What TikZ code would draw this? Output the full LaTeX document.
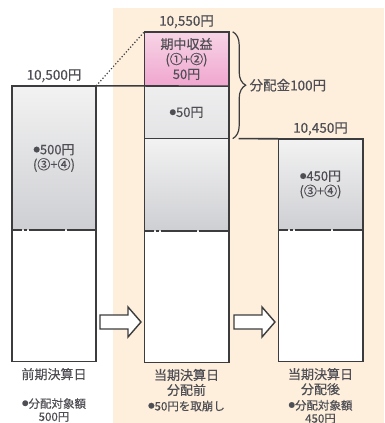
\documentclass[tikz,border=0pt]{standalone}
\usepackage{fontspec}
\setmainfont{Noto Sans CJK JP}[FakeBold=0.4]
\usetikzlibrary{decorations.pathreplacing}

\definecolor{peach}{RGB}{253,239,220}
\definecolor{inkline}{RGB}{60,60,62}
\definecolor{inktext}{RGB}{78,78,84}

\newcommand\blt{\raisebox{2.2pt}{\fontsize{6.5}{6.5}\selectfont●}}

\tikzset{
  seg/.style={rectangle, inner sep=0pt, minimum width=84pt, align=center,
    text=inktext, font=\fontsize{13}{15}\selectfont},
  grayseg/.style={seg, top color=gray!10, bottom color={rgb,255:red,206;green,207;blue,211}},
  lightseg/.style={seg, top color={rgb,255:red,238;green,238;blue,239}, bottom color={rgb,255:red,228;green,228;blue,230}},
  pinkseg/.style={seg, top color={rgb,255:red,247;green,212;blue,230}, bottom color={rgb,255:red,240;green,166;blue,207}},
  whiteseg/.style={seg, fill=white},
  bar/.style={draw=inkline, line width=1.6pt},
  gapline/.style={draw=inkline, line width=1.6pt, dash pattern=on 10pt off 2pt on 3pt off 2pt on 36pt off 2pt on 40pt},
  price/.style={text=inktext, font=\fontsize{13.5}{15}\selectfont},
  daylabel/.style={text=inktext, align=center, font=\fontsize{13}{15}\selectfont},
  notelabel/.style={text=inktext, align=center, font=\fontsize{11.5}{13}\selectfont},
}

\begin{document}
\begin{tikzpicture}[x=1pt, y=-1pt]
  \useasboundingbox (0,0) rectangle (384,423);
  \fill[peach] (113,8) rectangle (384,423);

  % previous closing day
  \node[grayseg, minimum height=144pt] (lu) at (54,158) {\blt{}500円\\(③+④)};
  \node[whiteseg, minimum height=131pt, anchor=north] (ld) at (lu.south) {};
  % this closing day, before distribution
  \node[pinkseg, minimum height=54pt] (mp) at (186.5,59) {期中収益\\(①+②)\\50円};
  \node[lightseg, minimum height=52pt, anchor=north] (mm) at (mp.south) {\blt{}50円};
  \node[grayseg, minimum height=92pt, anchor=north] (mg) at (mm.south) {};
  \node[whiteseg, minimum height=131pt, anchor=north] (md) at (mg.south) {};
  % this closing day, after distribution
  \node[grayseg, minimum height=91pt] (ru) at (320.5,184.5) {\blt{}450円\\(③+④)};
  \node[whiteseg, minimum height=131pt, anchor=north] (rd) at (ru.south) {};

  \draw[bar] (lu.north west) rectangle (ld.south east);
  \draw[bar] (mp.north west) rectangle (md.south east);
  \draw[bar] (ru.north west) rectangle (rd.south east);
  \draw[gapline] (lu.south west) -- (lu.south east);
  \draw[gapline] (mg.south west) -- (mg.south east);
  \draw[gapline] (ru.south west) -- (ru.south east);
  \draw[bar] (mm.south west) -- (mm.south east);

  % connectors
  \draw[bar] (lu.north east) -- (mp.south east);
  \draw[inkline, line width=1.2pt, dotted] (lu.north east) -- (mp.north west);
  \draw[inkline, line width=1.2pt, decorate, decoration={brace, amplitude=13pt}]
    ([xshift=4pt]mp.north east) -- ([xshift=4pt]mm.south east)
    node[midway, anchor=west, xshift=13pt, price] (dist) {分配金100円};
  \draw[bar] ([xshift=10pt]mm.south east) -- (ru.north west);

  % prices
  \node[price, above=0pt] (p1) at (lu.north) {10,500円};
  \node[price, above=0pt] (p2) at (mp.north) {10,550円};
  \node[price, above=0pt] (p3) at (ru.north) {10,450円};

  % hollow arrows
  \foreach \x in {100,234}
    \draw[inkline, line width=1.4pt, fill=white, line join=miter]
      (\x,315) -- (\x+28,315) -- (\x+28,307) -- (\x+41,322)
      -- (\x+28,337) -- (\x+28,329) -- (\x,329) -- cycle;

  % captions
  \node[daylabel, below=3pt] (c1) at (ld.south) {前期決算日};
  \node[daylabel, below=3pt] (c2) at (md.south) {当期決算日\\分配前};
  \node[daylabel, below=3pt] (c3) at (rd.south) {当期決算日\\分配後};
  \node[notelabel, anchor=north, inner sep=1pt] (n1) at (54,397) {\blt{}分配対象額\\500円};
  \node[notelabel, anchor=north, inner sep=1pt] (n2) at (c2.south) {\blt{}50円を取崩し};
  \node[notelabel, anchor=north, inner sep=1pt] (n3) at (c3.south) {\blt{}分配対象額\\450円};
\end{tikzpicture}
\end{document}
